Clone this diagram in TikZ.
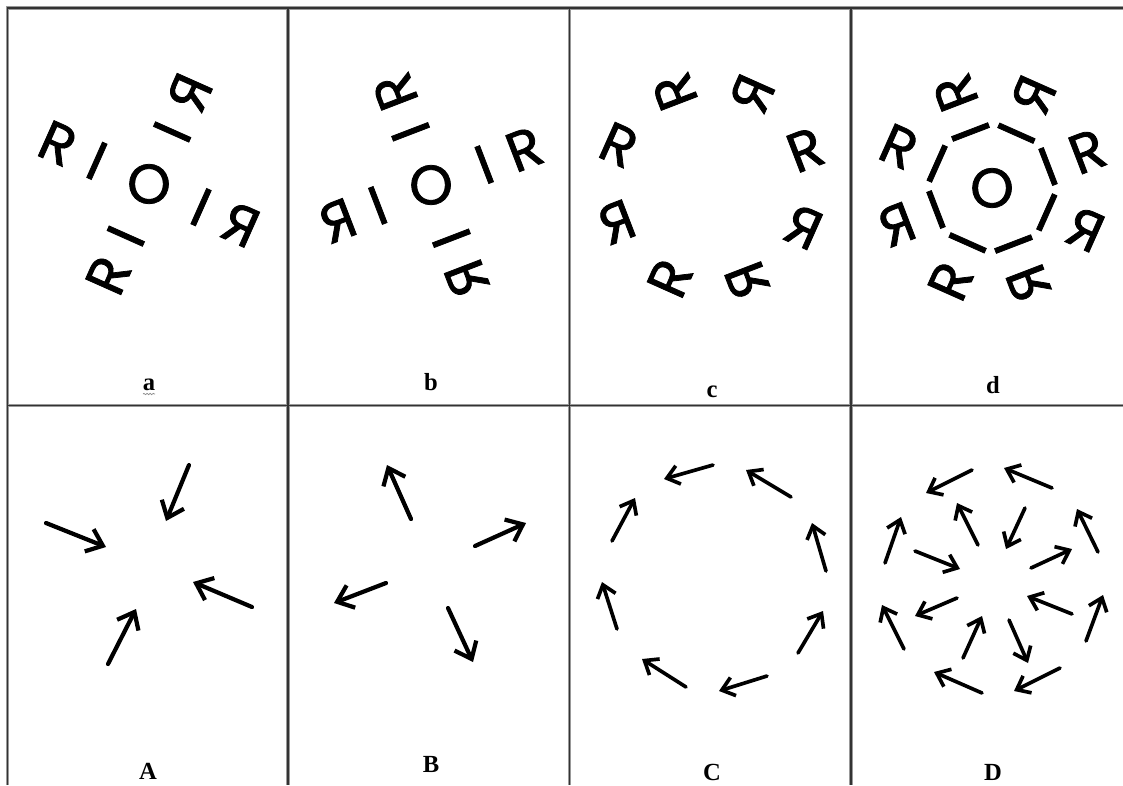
\documentclass[tikz,border=0pt]{standalone}
\usepackage{fontspec}
\setmainfont{Liberation Serif}
\newfontfamily\zeichenfont{Poppins}[FakeBold=1.4]
\usetikzlibrary{calc,arrows.meta,decorations.pathmorphing}

\begin{document}
\begin{tikzpicture}[
        x=0.025cm, y=0.025cm,
        rahmen/.style={
            draw=black!80,
            line width=0.8pt,
            preaction={draw=black!40, line width=2.2pt}
        },
        zeichen/.style={
            font=\zeichenfont\fontsize{39.5}{40}\selectfont,
            inner sep=0pt,
            anchor=center
        },
        spiegel/.style={xscale=-1},
        beschriftung/.style={
            font=\fontsize{17.5}{18}\selectfont\bfseries,
            inner sep=0pt,
            anchor=base
        },
        pfeil/.style={
            line width=3pt,
            line cap=round,
            -{Straight Barb[length=10.5pt, width=17pt]}
        },
        pfeilduenn/.style={
            line width=2.6pt,
            line cap=round,
            -{Straight Barb[length=8.5pt, width=13.5pt]}
        }
    ]
    \useasboundingbox (0,0) rectangle (1123,-785);
    \fill[white] (0,0) rectangle (1123,-785);
    % Tabellenrahmen
    \draw[rahmen] (7.5,-785) -- (7.5,-8) -- (1123,-8)
        (288,-8) -- (288,-785)
        (569.5,-8) -- (569.5,-785)
        (851,-8) -- (851,-785)
        (7.5,-405.5) -- (1123,-405.5);
    % Beschriftungen
    \node[beschriftung] (la) at (149,-390) {a};
    \node[beschriftung] (lb) at (431,-390) {b};
    \node[beschriftung] (lc) at (712,-397) {c};
    \node[beschriftung] (ld) at (993,-393) {d};
    \node[beschriftung] (lA) at (148,-779) {A};
    \node[beschriftung] (lB) at (431,-772) {B};
    \node[beschriftung] (lC) at (712,-780) {C};
    \node[beschriftung] (lD) at (993,-780) {D};
    \draw[black!45, line width=0.5pt, decorate,
        decoration={snake, amplitude=0.5pt, segment length=2.2pt}]
        (143,-394) -- (155,-394);
    % Feld a
    \coordinate (ma) at (149,-184);
    \node[zeichen] (ao) at (ma) {O};
    \foreach \k in {0,90}{
        \pgfmathsetmacro{\w}{-24+\k}
        \node[zeichen, rotate=\w] (ar\k) at ($(ma)+(\w+180:100)$) {R};
        \node[zeichen, rotate=\w] (ai\k) at ($(ma)+(\w+180:57)$) {I};
        \node[zeichen, rotate=\w] (aj\k) at ($(ma)+(\w:57)$) {I};
        \node[zeichen, rotate=\w, spiegel] (as\k) at ($(ma)+(\w:100)$) {R};
    }
    % Feld b
    \coordinate (mb) at (431,-185);
    \node[zeichen] (bo) at (mb) {O};
    \foreach \k in {0,90}{
        \pgfmathsetmacro{\w}{21+\k}
        \node[zeichen, rotate=\w, spiegel] (bs\k) at ($(mb)+(\w+180:100)$) {R};
        \node[zeichen, rotate=\w] (bi\k) at ($(mb)+(\w+180:57)$) {I};
        \node[zeichen, rotate=\w] (bj\k) at ($(mb)+(\w:57)$) {I};
        \node[zeichen, rotate=\w] (br\k) at ($(mb)+(\w:100)$) {R};
    }
    % Feld c, nur die Buchstaben
    \coordinate (mc) at (711,-186);
    \foreach \k in {0,90}{
        \pgfmathsetmacro{\w}{-24+\k}
        \pgfmathsetmacro{\v}{21+\k}
        \node[zeichen, rotate=\w] (car\k) at ($(mc)+(\w+180:101)$) {R};
        \node[zeichen, rotate=\w, spiegel] (cas\k) at ($(mc)+(\w:101)$) {R};
        \node[zeichen, rotate=\v, spiegel] (cbs\k) at ($(mc)+(\v+180:101)$) {R};
        \node[zeichen, rotate=\v] (cbr\k) at ($(mc)+(\v:101)$) {R};
    }
    % Feld d, Buchstaben, Achteck und Kreis
    \coordinate (md) at (992,-188);
    \node[zeichen] (do) at (md) {O};
    \foreach \k in {0,90}{
        \pgfmathsetmacro{\w}{-24+\k}
        \pgfmathsetmacro{\v}{21+\k}
        \node[zeichen, rotate=\w] (dar\k) at ($(md)+(\w+180:102)$) {R};
        \node[zeichen, rotate=\w, spiegel] (das\k) at ($(md)+(\w:102)$) {R};
        \node[zeichen, rotate=\v, spiegel] (dbs\k) at ($(md)+(\v+180:102)$) {R};
        \node[zeichen, rotate=\v] (dbr\k) at ($(md)+(\v:102)$) {R};
        \node[zeichen, rotate=\w] (dai\k) at ($(md)+(\w+180:60)$) {I};
        \node[zeichen, rotate=\w] (daj\k) at ($(md)+(\w:60)$) {I};
        \node[zeichen, rotate=\v] (dbi\k) at ($(md)+(\v+180:60)$) {I};
        \node[zeichen, rotate=\v] (dbj\k) at ($(md)+(\v:60)$) {I};
    }
    % Pfeile A und B
    \foreach \xa/\ya/\xb/\yb in {46/523/106/547, 189/465/166/521,
        252/607/193/582, 108/664/136/609,
        411/519/387/465, 475/546/526/523, 386/583/334/603, 448/608/473/662}
        \draw[pfeil] (\xa,-\ya) -- (\xb,-\yb);
    % Pfeile C
    \foreach \xa/\ya/\xb/\yb in {713/465/664/479, 791/497/746/470,
        826/571/812/523, 798/653/823/611, 767/676/719/691,
        686/687/642/659, 617/629/602/582, 612/541/635/498}
        \draw[pfeilduenn] (\xa,-\ya) -- (\xb,-\yb);
    % Pfeile D, aussen und innen
    \foreach \xa/\ya/\xb/\yb in {972/470/926/493, 1052/488/1004/468,
        1098/552/1077/509, 1086/641/1103/595, 1060/668/1014/691,
        982/693/934/672, 904/649/882/605, 885/563/901/517,
        978/545/957/503, 1025/508/1006/549, 1031/568/1072/549,
        1072/614/1027/596, 1009/620/1028/663, 963/658/982/616,
        957/598/915/616, 915/551/960/569}
        \draw[pfeilduenn] (\xa,-\ya) -- (\xb,-\yb);
\end{tikzpicture}
\end{document}
